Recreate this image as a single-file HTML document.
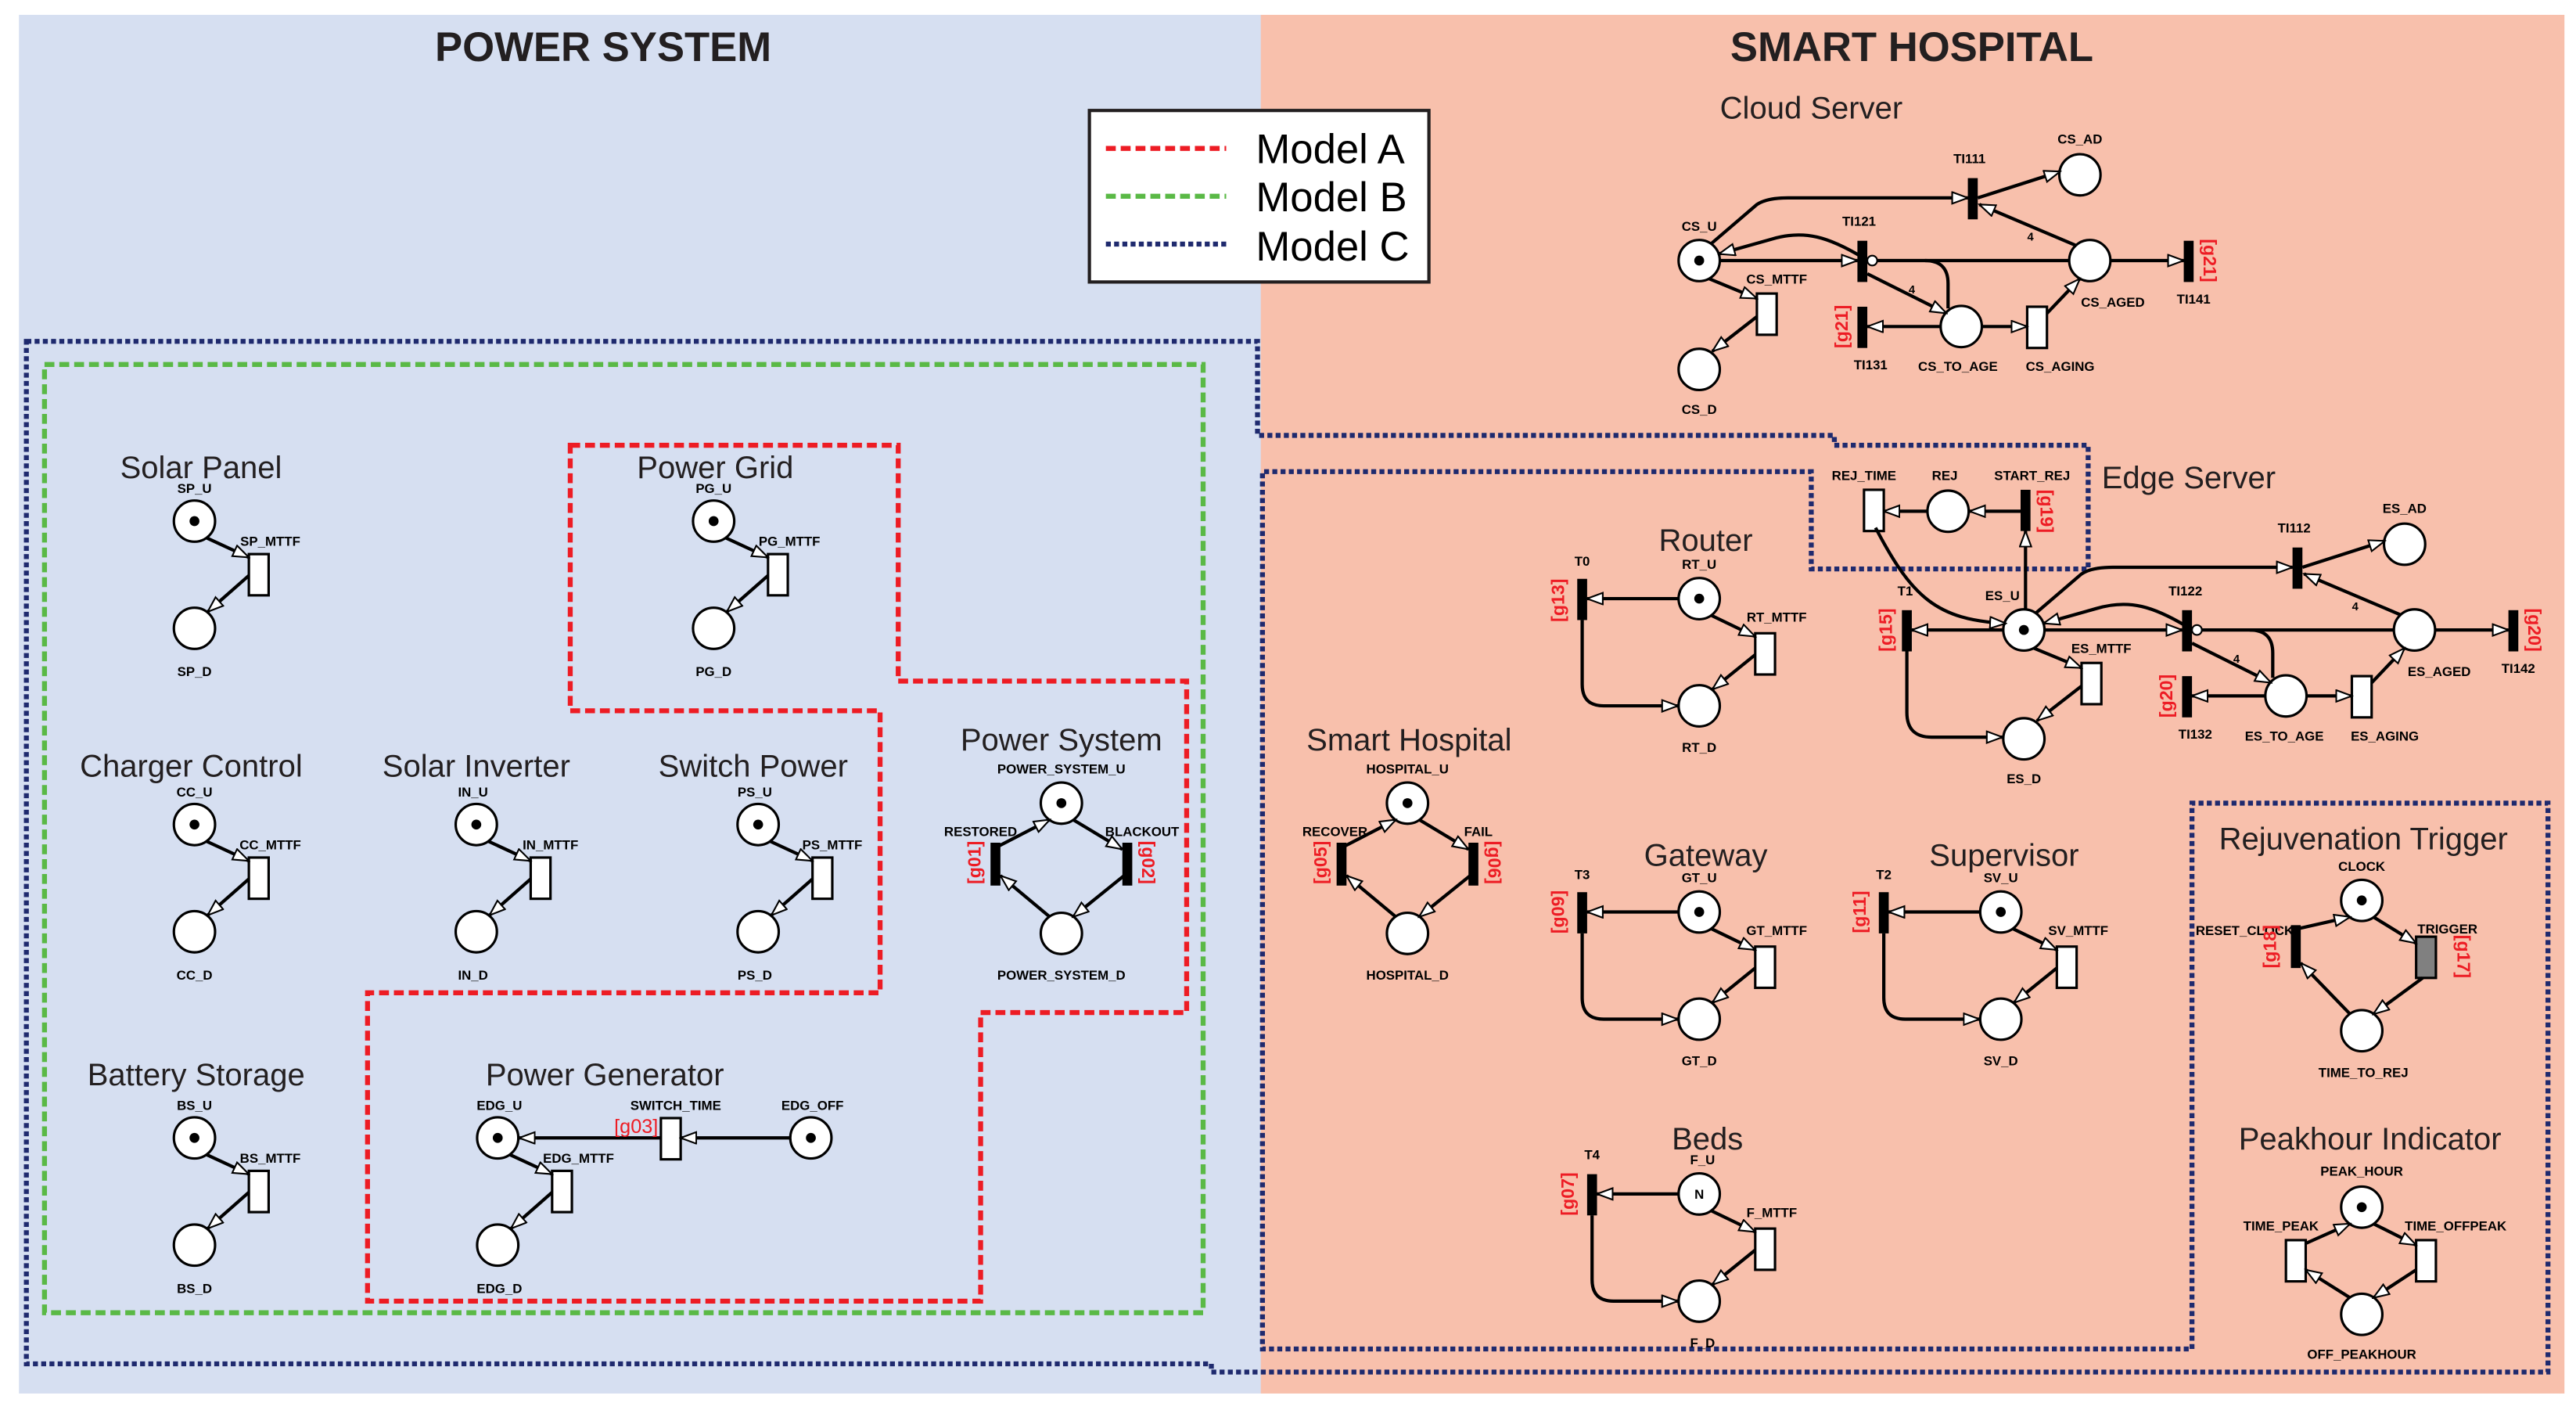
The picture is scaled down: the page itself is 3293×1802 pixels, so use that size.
<!DOCTYPE html>
<html><head><meta charset="utf-8"><style>
html,body{margin:0;padding:0;background:#fff;}
svg{display:block;}
.t{font-family:"Liberation Sans",sans-serif;font-size:19px;fill:#231f20;text-anchor:middle;}
.big{font-family:"Liberation Sans",sans-serif;font-size:25px;font-weight:bold;fill:#231f20;text-anchor:middle;}
.s{font-family:"Liberation Sans Narrow","Liberation Sans",sans-serif;font-size:8px;font-weight:bold;fill:#000;text-anchor:middle;}
.g{font-family:"Liberation Sans",sans-serif;font-size:11px;font-weight:bold;fill:#ed1c24;text-anchor:middle;}
.leg{font-family:"Liberation Sans",sans-serif;font-size:25px;fill:#000;}
.p{fill:#fff;stroke:#000;stroke-width:1.5;}
.tr{fill:#fff;stroke:#000;stroke-width:1.5;}
.im{fill:#000;}
.a{stroke:#000;stroke-width:2;fill:none;marker-end:url(#ar);}
.l{stroke:#000;stroke-width:2;fill:none;}
</style></head><body>
<svg width="3293" height="1802" viewBox="0 0 1563 855" preserveAspectRatio="none" xmlns="http://www.w3.org/2000/svg">
<defs>
<marker id="ar" markerUnits="userSpaceOnUse" markerWidth="11" markerHeight="9" refX="10" refY="4" orient="auto">
<path d="M0.5,0.5 L10,4 L0.5,7.5 z" fill="#fff" stroke="#000" stroke-width="1"/>
</marker>
<g id="simple">
<circle class="p" cx="0" cy="0" r="12.5"/><circle cx="0" cy="0" r="3" fill="#000"/>
<rect class="tr" x="33" y="20" width="12" height="25"/>
<circle class="p" cx="0" cy="65" r="12.5"/>
<line class="a" x1="7" y1="10" x2="33" y2="22"/>
<line class="a" x1="33" y1="33" x2="8" y2="55"/>
</g>
<g id="rt">
<circle class="p" cx="0" cy="0" r="12.5"/><circle cx="0" cy="0" r="3" fill="#000"/>
<rect class="tr" x="34" y="21" width="12" height="25"/>
<circle class="p" cx="0" cy="65" r="12.5"/>
<line class="a" x1="7" y1="10" x2="34" y2="23"/>
<line class="a" x1="34" y1="34" x2="8" y2="55"/>
<rect class="im" x="-74" y="-12" width="6" height="25"/>
<line class="a" x1="-12.5" y1="0" x2="-68" y2="0"/>
<path class="a" d="M-71,13 V52 Q-71,65 -58,65 H-13"/>
</g>
<g id="dia">
<circle class="p" cx="0" cy="0" r="12.5"/><circle cx="0" cy="0" r="3" fill="#000"/>
<circle class="p" cx="0" cy="79" r="12.5"/>
<rect class="im" x="-43" y="24" width="6" height="26"/>
<rect class="im" x="37" y="24" width="6" height="26"/>
<line class="a" x1="-38" y1="26" x2="-7" y2="10"/>
<line class="a" x1="-7" y1="69" x2="-37" y2="44"/>
<line class="a" x1="7" y1="10" x2="37" y2="28"/>
<line class="a" x1="38" y1="44" x2="7" y2="69"/>
</g>
<g id="srv">
<circle class="p" cx="1031" cy="158" r="12.5"/><circle cx="1031" cy="158" r="3" fill="#000"/>
<rect class="tr" x="1066" y="178" width="12" height="25"/>
<circle class="p" cx="1031" cy="224" r="12.5"/>
<line class="a" x1="1037" y1="169" x2="1066" y2="181"/>
<line class="a" x1="1066" y1="192" x2="1039" y2="213"/>
<path class="l" d="M1139,158 H1256"/>
<path class="l" d="M1168,158 Q1182,158 1182,172 V187"/>
<rect class="im" x="1127" y="146" width="6" height="25"/>
<circle cx="1136" cy="158" r="3" fill="#fff" stroke="#000" stroke-width="1"/>
<rect class="im" x="1194" y="108" width="6" height="25"/>
<circle class="p" cx="1262" cy="106" r="12.5"/>
<circle class="p" cx="1268" cy="158" r="12.5"/>
<rect class="im" x="1325" y="146" width="6" height="25"/>
<circle class="p" cx="1190" cy="198" r="12.5"/>
<rect class="tr" x="1230" y="186" width="12" height="25"/>
<rect class="im" x="1127" y="186" width="6" height="25"/>
<line class="a" x1="1043" y1="158" x2="1127" y2="158"/>
<path class="a" d="M1130,156 C1110,144 1095,139 1075,145 L1043,154"/>
<path class="a" d="M1038,148 L1066,124 Q1072,120 1085,120 H1194"/>
<line class="a" x1="1200" y1="120" x2="1250" y2="104"/>
<line class="a" x1="1260" y1="149" x2="1201" y2="124"/>
<line class="a" x1="1133" y1="166" x2="1181" y2="190"/>
<line class="a" x1="1178" y1="198" x2="1133" y2="198"/>
<line class="a" x1="1202" y1="198" x2="1230" y2="198"/>
<line class="a" x1="1242" y1="190" x2="1262" y2="169"/>
<line class="a" x1="1281" y1="158" x2="1325" y2="158"/>
</g>
</defs>

<rect x="11.5" y="9" width="754" height="836" fill="#d6dff1"/>
<rect x="765" y="9" width="791" height="836" fill="#f8c0ac"/>

<text class="big" x="366" y="37">POWER SYSTEM</text>
<text class="big" x="1160" y="37">SMART HOSPITAL</text>

<path d="M16,207 H763 V264 H1113 V270 H1267 V345 H1099 V286 H766 V818 H1330 V487 H1546 V832 H735 V827 H16 Z" fill="none" stroke="#1f2a6e" stroke-width="3" stroke-dasharray="3,2"/>
<rect x="27" y="221" width="703" height="575" fill="none" stroke="#5ab946" stroke-width="3" stroke-dasharray="6,3"/>
<path d="M346,270 H545 V413 H720 V614 H595 V789 H223 V602 H534 V431 H346 Z" fill="none" stroke="#ed1c24" stroke-width="3" stroke-dasharray="6,3"/>

<rect x="661" y="67" width="206" height="104" fill="#fff" stroke="#231f20" stroke-width="2"/>
<line x1="671" y1="90" x2="744" y2="90" stroke="#ed1c24" stroke-width="3" stroke-dasharray="6,3"/>
<line x1="671" y1="119" x2="744" y2="119" stroke="#5ab946" stroke-width="3" stroke-dasharray="6,3"/>
<line x1="671" y1="148" x2="744" y2="148" stroke="#1f2a6e" stroke-width="3" stroke-dasharray="3,2"/>
<text class="leg" x="762" y="99">Model A</text>
<text class="leg" x="762" y="128">Model B</text>
<text class="leg" x="762" y="158">Model C</text>

<use href="#simple" transform="translate(118,316)"/>
<text class="t" x="122" y="290">Solar Panel</text>
<text class="s" x="118" y="299">SP_U</text><text class="s" x="164" y="331">SP_MTTF</text><text class="s" x="118" y="410">SP_D</text>

<use href="#simple" transform="translate(433,316)"/>
<text class="t" x="434" y="290">Power Grid</text>
<text class="s" x="433" y="299">PG_U</text><text class="s" x="479" y="331">PG_MTTF</text><text class="s" x="433" y="410">PG_D</text>

<use href="#simple" transform="translate(118,500)"/>
<text class="t" x="116" y="471">Charger Control</text>
<text class="s" x="118" y="483">CC_U</text><text class="s" x="164" y="515">CC_MTTF</text><text class="s" x="118" y="594">CC_D</text>

<use href="#simple" transform="translate(289,500)"/>
<text class="t" x="289" y="471">Solar Inverter</text>
<text class="s" x="287" y="483">IN_U</text><text class="s" x="334" y="515">IN_MTTF</text><text class="s" x="287" y="594">IN_D</text>

<use href="#simple" transform="translate(460,500)"/>
<text class="t" x="457" y="471">Switch Power</text>
<text class="s" x="458" y="483">PS_U</text><text class="s" x="505" y="515">PS_MTTF</text><text class="s" x="458" y="594">PS_D</text>

<use href="#simple" transform="translate(118,690)"/>
<text class="t" x="119" y="658">Battery Storage</text>
<text class="s" x="118" y="673">BS_U</text><text class="s" x="164" y="705">BS_MTTF</text><text class="s" x="118" y="784">BS_D</text>

<use href="#simple" transform="translate(302,690)"/>
<text class="t" x="367" y="658">Power Generator</text>
<rect class="tr" x="401" y="678" width="12" height="25"/>
<circle class="p" cx="492" cy="690" r="12.5"/><circle cx="492" cy="690" r="3" fill="#000"/>
<line class="a" x1="479" y1="690" x2="413" y2="690"/>
<line class="a" x1="401" y1="690" x2="315" y2="690"/>
<text class="s" x="303" y="673">EDG_U</text><text class="s" x="351" y="705">EDG_MTTF</text><text class="s" x="303" y="784">EDG_D</text>
<text class="s" x="410" y="673">SWITCH_TIME</text><text class="s" x="493" y="673">EDG_OFF</text>
<text class="g" x="386" y="687" style="font-weight:normal;font-size:12px">[g03]</text>

<use href="#dia" transform="translate(644,487)"/>
<text class="t" x="644" y="455">Power System</text>
<text class="s" x="644" y="469">POWER_SYSTEM_U</text><text class="s" x="644" y="594">POWER_SYSTEM_D</text>
<text class="s" x="595" y="507">RESTORED</text><text class="s" x="693" y="507">BLACKOUT</text>
<text class="g" transform="translate(595,523) rotate(-90)" y="0">[g01]</text>
<text class="g" transform="translate(693,523) rotate(90)" y="0">[g02]</text>

<use href="#srv"/>
<text class="t" x="1099" y="72">Cloud Server</text>
<text class="s" x="1031" y="140">CS_U</text><text class="s" x="1078" y="172">CS_MTTF</text><text class="s" x="1031" y="251">CS_D</text>
<text class="s" x="1128" y="137">TI121</text><text class="s" x="1195" y="99">TI111</text><text class="s" x="1262" y="87">CS_AD</text>
<text class="s" x="1282" y="186">CS_AGED</text><text class="s" x="1331" y="184">TI141</text><text class="s" x="1135" y="224">TI131</text>
<text class="s" x="1188" y="225">CS_TO_AGE</text><text class="s" x="1250" y="225">CS_AGING</text>
<text class="s" x="1232" y="146" style="font-size:7px">4</text><text class="s" x="1160" y="178" style="font-size:7px">4</text>
<text class="g" transform="translate(1337,158) rotate(90)">[g21]</text>
<text class="g" transform="translate(1121,198) rotate(-90)">[g21]</text>

<use href="#srv" transform="translate(197,224)"/>
<text class="t" x="1328" y="296">Edge Server</text>
<rect class="im" x="1154" y="370" width="6" height="25"/>
<line class="a" x1="1216" y1="382" x2="1160" y2="382"/>
<path class="a" d="M1157,395 V432 Q1157,447 1172,447 H1215"/>
<rect class="im" x="1226" y="297" width="6" height="25"/>
<line class="a" x1="1229" y1="370" x2="1229" y2="322"/>
<circle class="p" cx="1182" cy="310" r="12.5"/>
<line class="a" x1="1226" y1="310" x2="1195" y2="310"/>
<line class="a" x1="1170" y1="310" x2="1143" y2="310"/>
<rect class="tr" x="1131" y="297" width="12" height="25"/>
<path class="a" d="M1138,320 C1160,362 1175,376 1217,378"/>
<text class="s" x="1131" y="291">REJ_TIME</text><text class="s" x="1180" y="291">REJ</text><text class="s" x="1233" y="291">START_REJ</text>
<text class="s" x="1156" y="361">T1</text><text class="s" x="1215" y="364">ES_U</text><text class="s" x="1275" y="396">ES_MTTF</text><text class="s" x="1228" y="475">ES_D</text>
<text class="s" x="1326" y="361">TI122</text><text class="s" x="1392" y="323">TI112</text><text class="s" x="1459" y="311">ES_AD</text>
<text class="s" x="1480" y="410">ES_AGED</text><text class="s" x="1528" y="408">TI142</text><text class="s" x="1332" y="448">TI132</text>
<text class="s" x="1386" y="449">ES_TO_AGE</text><text class="s" x="1447" y="449">ES_AGING</text>
<text class="s" x="1429" y="370" style="font-size:7px">4</text><text class="s" x="1357" y="402" style="font-size:7px">4</text>
<text class="g" transform="translate(1534,382) rotate(90)">[g20]</text>
<text class="g" transform="translate(1318,422) rotate(-90)">[g20]</text>
<text class="g" transform="translate(1148,382) rotate(-90)">[g15]</text>
<text class="g" transform="translate(1238,310) rotate(90)">[g19]</text>

<use href="#rt" transform="translate(1031,363)"/>
<text class="t" x="1035" y="334">Router</text>
<text class="s" x="960" y="343">T0</text><text class="s" x="1031" y="345">RT_U</text><text class="s" x="1078" y="377">RT_MTTF</text><text class="s" x="1031" y="456">RT_D</text>
<text class="g" transform="translate(949,364) rotate(-90)">[g13]</text>

<use href="#rt" transform="translate(1031,553)"/>
<text class="t" x="1035" y="525">Gateway</text>
<text class="s" x="960" y="533">T3</text><text class="s" x="1031" y="535">GT_U</text><text class="s" x="1078" y="567">GT_MTTF</text><text class="s" x="1031" y="646">GT_D</text>
<text class="g" transform="translate(949,553) rotate(-90)">[g09]</text>

<use href="#rt" transform="translate(1214,553)"/>
<text class="t" x="1216" y="525">Supervisor</text>
<text class="s" x="1143" y="533">T2</text><text class="s" x="1214" y="535">SV_U</text><text class="s" x="1261" y="567">SV_MTTF</text><text class="s" x="1214" y="646">SV_D</text>
<text class="g" transform="translate(1132,553) rotate(-90)">[g11]</text>

<g transform="translate(1031,724)">
<circle class="p" cx="0" cy="0" r="12.5"/>
<rect class="tr" x="34" y="21" width="12" height="25"/>
<circle class="p" cx="0" cy="65" r="12.5"/>
<line class="a" x1="7" y1="10" x2="34" y2="23"/>
<line class="a" x1="34" y1="34" x2="8" y2="55"/>
<rect class="im" x="-68" y="-12" width="6" height="25"/>
<line class="a" x1="-12.5" y1="0" x2="-62" y2="0"/>
<path class="a" d="M-65,13 V52 Q-65,65 -52,65 H-13"/>
</g>
<text class="s" x="1031" y="727">N</text>
<text class="t" x="1036" y="697">Beds</text>
<text class="s" x="966" y="703">T4</text><text class="s" x="1033" y="706">F_U</text><text class="s" x="1075" y="738">F_MTTF</text><text class="s" x="1033" y="817">F_D</text>
<text class="g" transform="translate(955,724) rotate(-90)">[g07]</text>

<use href="#dia" transform="translate(854,487)"/>
<text class="t" x="855" y="455">Smart Hospital</text>
<text class="s" x="854" y="469">HOSPITAL_U</text><text class="s" x="854" y="594">HOSPITAL_D</text>
<text class="s" x="810" y="507">RECOVER</text><text class="s" x="897" y="507">FAIL</text>
<text class="g" transform="translate(805,523) rotate(-90)">[g05]</text>
<text class="g" transform="translate(903,523) rotate(90)">[g06]</text>

<text class="t" x="1434" y="515">Rejuvenation Trigger</text>
<circle class="p" cx="1433" cy="546" r="12.5"/><circle cx="1433" cy="546" r="3" fill="#000"/>
<circle class="p" cx="1433" cy="625" r="12.5"/>
<rect class="im" x="1390" y="561" width="6" height="26"/>
<rect x="1466" y="568" width="12" height="25" fill="#808080" stroke="#000" stroke-width="1.5"/>
<line class="a" x1="1395" y1="563" x2="1426" y2="556"/>
<line class="a" x1="1426" y1="615" x2="1396" y2="584"/>
<line class="a" x1="1440" y1="556" x2="1466" y2="572"/>
<line class="a" x1="1470" y1="593" x2="1440" y2="615"/>
<text class="s" x="1433" y="528">CLOCK</text><text class="s" x="1485" y="566">TRIGGER</text>
<text class="s" x="1362" y="567">RESET_CLOCK</text><text class="s" x="1434" y="653">TIME_TO_REJ</text>
<text class="g" transform="translate(1381,574) rotate(-90)">[g18]</text>
<text class="g" transform="translate(1491,580) rotate(90)">[g17]</text>

<text class="t" x="1438" y="697">Peakhour Indicator</text>
<circle class="p" cx="1433" cy="732" r="12.5"/><circle cx="1433" cy="732" r="3" fill="#000"/>
<circle class="p" cx="1433" cy="797" r="12.5"/>
<rect class="tr" x="1387" y="752" width="12" height="25"/>
<rect class="tr" x="1466" y="752" width="12" height="25"/>
<line class="a" x1="1399" y1="754" x2="1426" y2="742"/>
<line class="a" x1="1426" y1="787" x2="1399" y2="770"/>
<line class="a" x1="1440" y1="742" x2="1466" y2="755"/>
<line class="a" x1="1466" y1="770" x2="1440" y2="787"/>
<text class="s" x="1433" y="713">PEAK_HOUR</text><text class="s" x="1384" y="746">TIME_PEAK</text>
<text class="s" x="1490" y="746">TIME_OFFPEAK</text><text class="s" x="1433" y="824">OFF_PEAKHOUR</text>
</svg>
</body></html>
